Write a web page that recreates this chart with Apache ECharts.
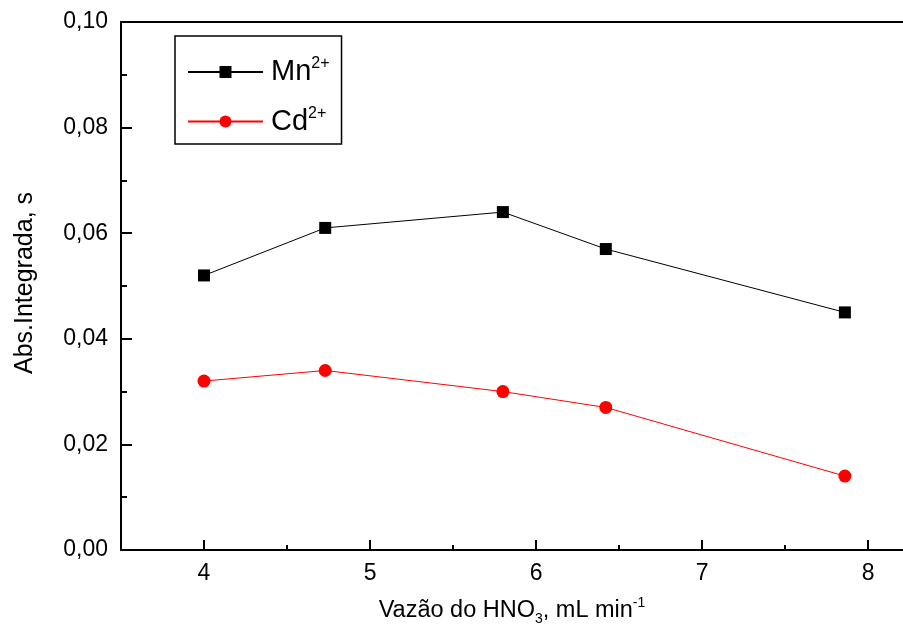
<!DOCTYPE html>
<html>
<head>
<meta charset="utf-8">
<script src="https://cdn.jsdelivr.net/npm/echarts@6/dist/echarts.min.js"></script>
<style>
  html, body { margin: 0; padding: 0; background: #fff; }
  #chart { width: 903px; height: 624px; }
</style>
</head>
<body>
<div id="chart"></div>
<script>
// flow rate of HNO3 (mL/min) and integrated absorbance
const flowRates = [4, 4.73, 5.8, 6.42, 7.86];
const mnValues = [0.052, 0.061, 0.064, 0.057, 0.045];
const cdValues = [0.032, 0.034, 0.030, 0.027, 0.014];
const xMajorTicks = [4, 5, 6, 7, 8];
const xMinorTicks = [4.5, 5.5, 6.5, 7.5];

const font = 'Arial, "Liberation Sans", sans-serif';
const X_MIN = 3.5, X_MAX = 8.21;

const chart = echarts.init(document.getElementById('chart'));

const toPairs = (ys) => flowRates.map((x, i) => [x, ys[i]]);

const option = {
  animation: false,
  backgroundColor: '#fff',
  grid: { left: 121, top: 22, right: 0, bottom: 74, outerBoundsMode: 'none', containLabel: false },
  legend: {
    left: 175,
    top: 36,
    orient: 'vertical',
    padding: [20, 12, 8, 12],
    borderColor: '#000',
    borderWidth: 1.5,
    itemWidth: 75,
    itemHeight: 15,
    itemGap: 19,
    data: ['Mn', 'Cd'],
    formatter: (name) => '{n|' + name + '}{s|2+}',
    textStyle: {
      fontFamily: font,
      rich: {
        n: { fontSize: 29, fontFamily: font, color: '#000', lineHeight: 32, padding: [0, 0, 0, 3] },
        s: { fontSize: 16, fontFamily: font, color: '#000', verticalAlign: 'top', lineHeight: 32 }
      }
    }
  },
  xAxis: [
    {
      type: 'value',
      min: X_MIN,
      max: X_MAX,
      position: 'bottom',
      name: 'Vazão do HNO{sub|3}, mL min{sup|-1}',
      nameLocation: 'middle',
      nameGap: 46,
      nameTextStyle: {
        fontFamily: font,
        fontSize: 23.5,
        color: '#000',
        rich: {
          sub: { fontSize: 14, fontFamily: font, color: '#000', verticalAlign: 'bottom', lineHeight: 30 },
          sup: { fontSize: 14, fontFamily: font, color: '#000', verticalAlign: 'top', lineHeight: 30 }
        }
      },
      axisLine: { show: true, onZero: false, lineStyle: { color: '#000', width: 2 } },
      axisTick: { show: true, inside: true, length: 10, customValues: xMajorTicks, lineStyle: { color: '#000', width: 2 } },
      axisLabel: { show: true, customValues: xMajorTicks, margin: 12, fontFamily: font, fontSize: 23, color: '#000' },
      splitLine: { show: false }
    },
    {
      type: 'value',
      min: X_MIN,
      max: X_MAX,
      position: 'bottom',
      axisLine: { show: false },
      axisTick: { show: true, inside: true, length: 5, customValues: xMinorTicks, lineStyle: { color: '#000', width: 2 } },
      axisLabel: { show: false },
      splitLine: { show: false }
    },
    {
      type: 'value',
      min: X_MIN,
      max: X_MAX,
      position: 'top',
      axisLine: { show: true, lineStyle: { color: '#000', width: 2 } },
      axisTick: { show: false },
      axisLabel: { show: false },
      splitLine: { show: false }
    }
  ],
  yAxis: {
    type: 'value',
    min: 0,
    max: 0.1,
    interval: 0.02,
    name: 'Abs.Integrada, s',
    nameLocation: 'middle',
    nameGap: 83,
    nameTextStyle: { fontFamily: font, fontSize: 25, color: '#000', padding: [0, 0, 0, 6] },
    axisLine: { show: true, lineStyle: { color: '#000', width: 2 } },
    axisTick: { show: true, inside: true, length: 11, lineStyle: { color: '#000', width: 2 } },
    minorTick: { show: true, splitNumber: 2, length: 6, lineStyle: { color: '#000', width: 2 } },
    axisLabel: {
      margin: 13,
      fontFamily: font,
      fontSize: 23,
      color: '#000',
      formatter: (v) => v.toFixed(2).replace('.', ',')
    },
    splitLine: { show: false }
  },
  series: [
    {
      name: 'Mn',
      type: 'line',
      data: toPairs(mnValues),
      symbol: 'rect',
      symbolSize: 12,
      itemStyle: { color: '#000' },
      lineStyle: { color: '#000', width: 1 }
    },
    {
      name: 'Cd',
      type: 'line',
      data: toPairs(cdValues),
      symbol: 'circle',
      symbolSize: 13,
      itemStyle: { color: '#ff0000' },
      lineStyle: { color: '#ff0000', width: 1 }
    }
  ]
};

chart.setOption(option);
</script>
</body>
</html>
